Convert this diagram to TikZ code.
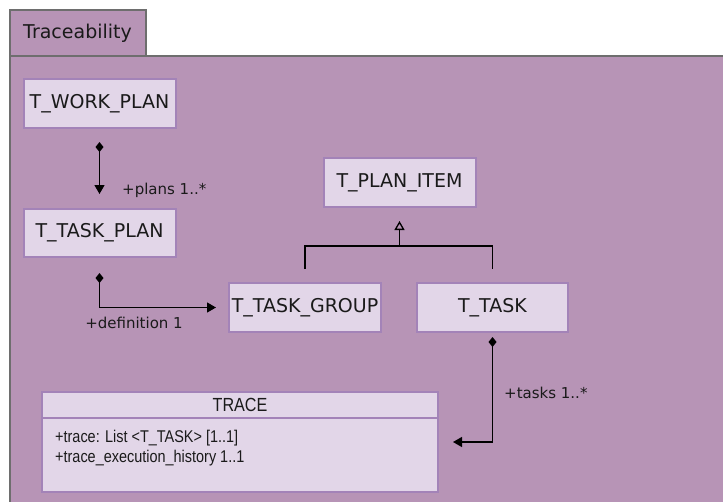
\documentclass[tikz,border=0pt]{standalone}
\usepackage{fontspec}
\usetikzlibrary{arrows.meta}
\newfontfamily\boxfont{DejaVu Sans}
\newfontfamily\narrowfont[FakeStretch=0.85]{Liberation Sans}
\definecolor{pkgbg}{HTML}{B794B6}
\definecolor{clsfill}{HTML}{E2D6E8}
\definecolor{clsline}{HTML}{A383B8}
\definecolor{frameline}{HTML}{6E6E6E}
\definecolor{ink}{HTML}{1A1A1A}
\tikzset{
  cls/.style={draw=clsline, line width=2pt, fill=clsfill, rectangle, inner sep=0pt,
    font=\boxfont\fontsize{19}{22}\selectfont, text=ink},
  lbl/.style={font=\boxfont\fontsize{15}{17}\selectfont, inner sep=0pt, text=ink},
  conn/.style={line width=1.3pt, black},
  comp/.style={conn, {Diamond[length=10pt,width=8pt]}-{Triangle[length=9pt,width=10pt]}},
}
\begin{document}
\begin{tikzpicture}[x=1pt,y=-1pt]
\useasboundingbox (0,0) rectangle (723,501);
\clip (0,0) rectangle (723,501);
\fill[white] (0,0) rectangle (723,501);
% package frame
\draw[fill=pkgbg, draw=frameline, line width=1.3pt] (10,10) rectangle (146,56);
\draw[fill=pkgbg, draw=frameline, line width=1.3pt] (10,56) rectangle (740,520);
\node[anchor=west, font=\boxfont\fontsize{19}{22}\selectfont, text=ink, inner sep=0pt] (title) at (23,33) {Traceability};
% classes
\node[cls, minimum width=152pt, minimum height=49pt] (wp) at (99.5,103.5) {T\_WORK\_PLAN};
\node[cls, minimum width=152pt, minimum height=48pt] (tp) at (99.5,233) {T\_TASK\_PLAN};
\node[cls, minimum width=152pt, minimum height=49pt] (pi) at (399.5,182.5) {T\_PLAN\_ITEM};
\node[cls, minimum width=152pt, minimum height=49pt] (tg) at (305,307.5) {T\_TASK\_GROUP};
\node[cls, minimum width=151pt, minimum height=49pt] (tk) at (492.5,307.5) {T\_TASK};
\node[cls, minimum width=396pt, minimum height=26pt, font=\narrowfont\fontsize{19}{22}\selectfont] (trh) at (240,405) {TRACE};
\node[cls, minimum width=396pt, minimum height=74pt] (trb) at (240,455) {};
\node[anchor=west, align=left, inner sep=0pt, text=ink, font=\narrowfont\fontsize{17}{19.5}\selectfont] (trtxt) at (55,448) {+trace: List <T\_TASK> [1..1]\\+trace\_execution\_history 1..1};
% composition wp -> tp
\draw[comp, shorten <=13pt, shorten >=14pt] (wp.south) -- (tp.north);
\node[lbl, anchor=west] (l1) at (122,190) {+plans 1..*};
% composition tp -> tg
\draw[comp, shorten <=15pt, shorten >=12pt] (tp.south) |- (tg.west);
\node[lbl] (l2) at (134,323) {+definition 1};
% generalization
\coordinate (j) at (399.5,246);
\draw[conn] ([yshift=13pt]tg.north) -- (tg.north |- j) -- (tk.north |- j) -- ([yshift=13pt]tk.north);
\draw[conn, -{Triangle[open, length=9pt, width=10pt, fill=pkgbg]}] (j) -- ([yshift=-13pt]pi.south);
% composition tk -> trace
\draw[comp, shorten <=4pt, shorten >=14pt] (tk.south) |- ([yshift=13pt]trb.east);
\node[lbl, anchor=west] (l3) at (504,393) {+tasks 1..*};
\end{tikzpicture}
\end{document}
